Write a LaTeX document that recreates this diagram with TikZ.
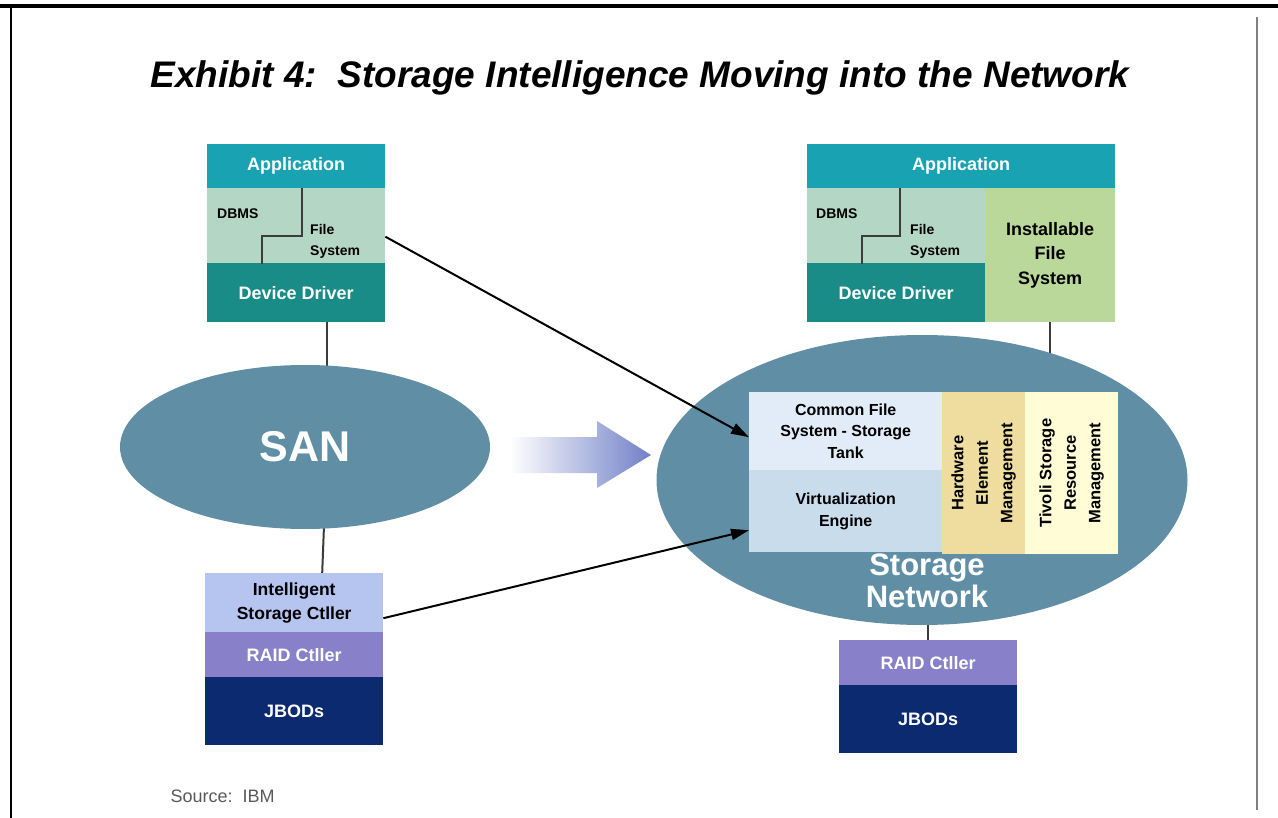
\documentclass[tikz,border=0pt]{standalone}
\usepackage{fontspec}
\setmainfont{Liberation Sans}
\usetikzlibrary{arrows.meta,shapes.geometric,calc}
\pgfdeclarelayer{bg}
\pgfsetlayers{bg,main}

\definecolor{appteal}{RGB}{25,162,177}
\definecolor{midgreen}{RGB}{180,214,196}
\definecolor{ddteal}{RGB}{26,140,135}
\definecolor{instgreen}{RGB}{186,216,154}
\definecolor{netblue}{RGB}{96,143,165}
\definecolor{cfsblue}{RGB}{226,236,248}
\definecolor{virtblue}{RGB}{200,220,235}
\definecolor{hwtan}{RGB}{238,221,158}
\definecolor{tivcream}{RGB}{255,252,214}
\definecolor{iscblue}{RGB}{182,196,240}
\definecolor{raidpurple}{RGB}{136,128,200}
\definecolor{jbodnavy}{RGB}{12,42,112}
\definecolor{arrowblue}{RGB}{112,128,200}
\definecolor{linegray}{RGB}{60,60,60}

\tikzset{
  blk/.style={draw=none, inner sep=0pt, anchor=north west, align=center},
  wlab/.style={text=white, font=\fontsize{18}{20}\selectfont\bfseries},
  blab/.style={text=black, font=\fontsize{16}{21.5}\selectfont\bfseries},
  rlab/.style={text=black, font=\fontsize{16.5}{24.5}\selectfont\bfseries},
  small/.style={text=black, font=\fontsize{14}{21}\selectfont\bfseries, inner sep=0pt},
  conn/.style={draw=linegray, line width=2pt},
  flow/.style={draw=black, line width=2pt, -{Triangle[length=18pt,width=11pt]}},
  net/.style={ellipse, fill=netblue, draw=none, inner sep=0pt}
}

\begin{document}
\begin{tikzpicture}[x=1pt,y=-1pt]
\useasboundingbox (0,0) rectangle (1278,818);

% page frame
\fill[black] (0,4) rectangle (1278,8.5);
\draw[black, line width=2pt] (11,8) -- (11,818);
\draw[gray, line width=2pt] (1257,17) -- (1257,810);

% title
\node[anchor=base, font=\fontsize{37}{40}\selectfont\bfseries\itshape] (title) at (640,88)
  {Exhibit 4:\ \ Storage Intelligence Moving into the Network};

% ---------- left top stack ----------
\node[blk, fill=appteal, minimum width=178, minimum height=44, wlab] (lapp) at (207,144) {Application};
\node[blk, fill=midgreen, minimum width=178, minimum height=75] (lmid) at (207,188) {};
\node[blk, fill=ddteal, minimum width=178, minimum height=59, wlab] (ldd) at (207,263) {Device Driver};
\node[small, anchor=west] (ldbms) at (217,214) {DBMS};
\node[small, anchor=west, align=left] (lfs) at (310,241) {File\\System};
\draw[linegray, line width=2pt] (302,188) -- (302,236) -- (262,236) -- (262,264);

% SAN
\node[net, minimum width=370, minimum height=164, text=white,
      font=\fontsize{43}{46}\selectfont\bfseries] (san) at (305,447) {SAN};

% ---------- left bottom stack ----------
\node[blk, fill=iscblue, minimum width=178, minimum height=60, text=black,
      font=\fontsize{17.5}{24}\selectfont\bfseries] (lisc) at (205,573) {Intelligent\\Storage Ctller};
\node[blk, fill=raidpurple, minimum width=178, minimum height=45, wlab] (lraid) at (205,632) {RAID Ctller};
\node[blk, fill=jbodnavy, minimum width=178, minimum height=68, wlab] (ljbod) at (205,677) {JBODs};

% gradient arrow
\shade[left color=white, right color=arrowblue]
  (510,437) -- (597,437) -- (597,421) -- (651,455) -- (597,488) -- (597,473) -- (510,473) -- cycle;

% ---------- right top stack ----------
\node[blk, fill=appteal, minimum width=308, minimum height=44, wlab] (rapp) at (807,144) {Application};
\node[blk, fill=midgreen, minimum width=178, minimum height=75] (rmid) at (807,188) {};
\node[blk, fill=ddteal, minimum width=178, minimum height=59, wlab] (rdd) at (807,263) {Device Driver};
\node[blk, fill=instgreen, minimum width=130, minimum height=134, text=black,
      font=\fontsize{18}{24.5}\selectfont\bfseries] (rifs) at (985,188) {Installable\\File\\System};
\node[small, anchor=west] (rdbms) at (816,214) {DBMS};
\node[small, anchor=west, align=left] (rfs) at (910,241) {File\\System};
\draw[linegray, line width=2pt] (900,188) -- (900,236) -- (862,236) -- (862,264);

% Storage network ellipse
\node[net, minimum width=531, minimum height=290] (rnet) at (922,480) {};
\node[blk, fill=cfsblue, minimum width=193, minimum height=78, blab] (cfs) at (749,392)
  {Common File\\System - Storage\\Tank};
\node[blk, fill=virtblue, minimum width=193, minimum height=82, blab] (virt) at (749,470)
  {Virtualization\\Engine};
\node[blk, fill=hwtan, minimum width=83, minimum height=162] (hw) at (942,392) {};
\node[rlab, rotate=90, align=center] (hwt) at (hw.center) {Hardware\\Element\\Management};
\node[blk, fill=tivcream, minimum width=93, minimum height=162] (tiv) at (1025,392) {};
\node[rlab, rotate=90, align=center] (tivt) at (tiv.center) {Tivoli Storage\\Resource\\Management};
\node[text=white, align=center, font=\fontsize{31}{32}\selectfont\bfseries] (rnetlab) at (927,581)
  {Storage\\Network};

% ---------- right bottom stack ----------
\node[blk, fill=raidpurple, minimum width=178, minimum height=45, wlab] (rraid) at (839,640) {RAID Ctller};
\node[blk, fill=jbodnavy, minimum width=178, minimum height=68, wlab] (rjbod) at (839,685) {JBODs};

% source
\node[anchor=base west, text=black!65, font=\fontsize{18}{20}\selectfont] (src) at (167,802) {Source:\ \ IBM};

% ---------- connectors ----------
\begin{pgfonlayer}{bg}
  \draw[conn] ([xshift=31pt]ldd.south) -- ([xshift=31pt]ldd.south |- san.center);
  \draw[conn] ([xshift=22pt]san.center) -- ([xshift=28pt]lisc.north);
  \draw[conn] (rifs.south) -- (rifs.south |- rnet.center);
  \draw[conn] (rraid.north) -- (rraid.north |- rnet.center);
\end{pgfonlayer}
\draw[flow] ([yshift=-11pt]lmid.east) -- ([yshift=-6pt]cfs.west);
\draw[flow] ([yshift=-15pt]lisc.east) -- ([yshift=-19pt]virt.west);

\end{tikzpicture}
\end{document}
